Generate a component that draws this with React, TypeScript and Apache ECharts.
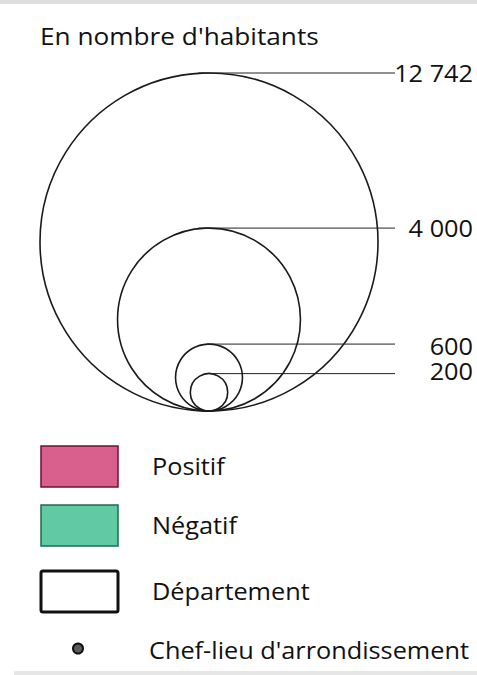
import React, { useEffect, useRef } from "react";
import * as echarts from "echarts";

// ---- data ----
const title = "En nombre d'habitants";
const circleValues = [12742, 4000, 600, 200];
const circleLabels = ["12 742", "4 000", "600", "200"];
const legendLabels = ["Positif", "Négatif", "Département", "Chef-lieu d'arrondissement"];
const legendFills = ["#d9608c", "#62c9a5", "#ffffff", "#5a5a5a"];
const legendStrokes = ["#6d1031", "#1d6b4f", "#111111", "#111111"];

// ---- layout ----
const W = 477;
const H = 675;
const CX = 209;
const BOTTOM = 411;
const R_MAX = 169;
const EXPONENT = 0.53;
const LINE_END = 395;
const LABEL_RIGHT = 473;
const FONT = "Open Sans";
const FS = 23;
const SX = 1.1;
const TEXT_COLOR = "#111111";

const radiusOf = (v: number) => R_MAX * Math.pow(v / circleValues[0], EXPONENT);

export default function App() {
  const ref = useRef<HTMLDivElement>(null);
  useEffect(() => {
    if (!ref.current) return;
    const chart = echarts.init(ref.current, null, { renderer: "svg" });

    const legendY = [466, 525, 591, 653];
    const legendGraphics: any[] = [];
    legendLabels.forEach((lab, i) => {
      if (i < 3) {
        legendGraphics.push({
          type: "rect",
          shape: { x: 41, y: legendY[i] - 20, width: 77, height: 41, r: i === 2 ? 2 : 0 },
          style: { fill: legendFills[i], stroke: legendStrokes[i], lineWidth: i === 2 ? 3 : 1.5 },
        });
      } else {
        legendGraphics.push({
          type: "circle",
          shape: { cx: 78, cy: 648.5, r: 5 },
          style: { fill: legendFills[i], stroke: legendStrokes[i], lineWidth: 2 },
        });
      }
      legendGraphics.push({
        type: "text",
        x: i < 3 ? 152 : 149,
        y: legendY[i] - (i === 3 ? 3 : 0),
        scaleX: SX,
        style: {
          text: lab,
          fill: TEXT_COLOR,
          font: `${FS}px "${FONT}"`,
          textAlign: "left",
          textVerticalAlign: "middle",
        },
      });
    });

    chart.setOption({
      animation: false,
      backgroundColor: "#ffffff",
      grid: { left: 0, right: 0, top: 0, bottom: 0 },
      xAxis: { type: "value", min: 0, max: W, show: false },
      yAxis: { type: "value", min: 0, max: H, inverse: true, show: false },
      graphic: [
        { type: "rect", shape: { x: 0, y: 0, width: W, height: 4 }, style: { fill: "#dedede" } },
        { type: "rect", shape: { x: 14, y: 671, width: W - 14, height: 4 }, style: { fill: "#e6e6e6" } },
        {
          type: "text",
          x: 40,
          y: 36,
          scaleX: 1.14,
          style: {
            text: title,
            fill: TEXT_COLOR,
            font: `${FS}px "${FONT}"`,
            textAlign: "left",
            textVerticalAlign: "middle",
          },
        },
        ...legendGraphics,
      ],
      series: [
        {
          type: "custom",
          coordinateSystem: "cartesian2d",
          clip: false,
          data: circleValues.map((v) => [v, 0]),
          encode: { x: -1, y: -1 },
          renderItem: (params: any, api: any) => {
            const i = params.dataIndex;
            const v = api.value(0);
            const r = radiusOf(v);
            const c = api.coord([CX, BOTTOM - r]);
            const top = api.coord([CX, BOTTOM - 2 * r]);
            const rp = api.size([r, r])[0];
            const startX = api.coord([CX - (r > 50 ? 11 : 2), 0])[0];
            const endX = api.coord([LINE_END, 0])[0];
            const labX = api.coord([LABEL_RIGHT, 0])[0];
            return {
              type: "group",
              children: [
                {
                  type: "circle",
                  shape: { cx: c[0], cy: c[1], r: rp },
                  style: { fill: "none", stroke: "#1a1a1a", lineWidth: 1.6 },
                },
                {
                  type: "line",
                  shape: { x1: startX, y1: top[1], x2: endX, y2: top[1] },
                  style: { stroke: "#222", lineWidth: 1 },
                },
                {
                  type: "text",
                  x: labX,
                  y: top[1] + (i === 3 ? -3 : i === 2 ? 2 : 0),
                  scaleX: SX,
                  style: {
                    text: circleLabels[i],
                    fill: TEXT_COLOR,
                    font: `${FS}px "${FONT}"`,
                    textAlign: "right",
                    textVerticalAlign: "middle",
                  },
                },
              ],
            };
          },
        },
      ],
    });
    return () => chart.dispose();
  }, []);
  return (
    <div
      ref={ref}
      style={{ position: "absolute", left: 0, top: 0, width: W, height: H, background: "#fff" }}
    />
  );
}
